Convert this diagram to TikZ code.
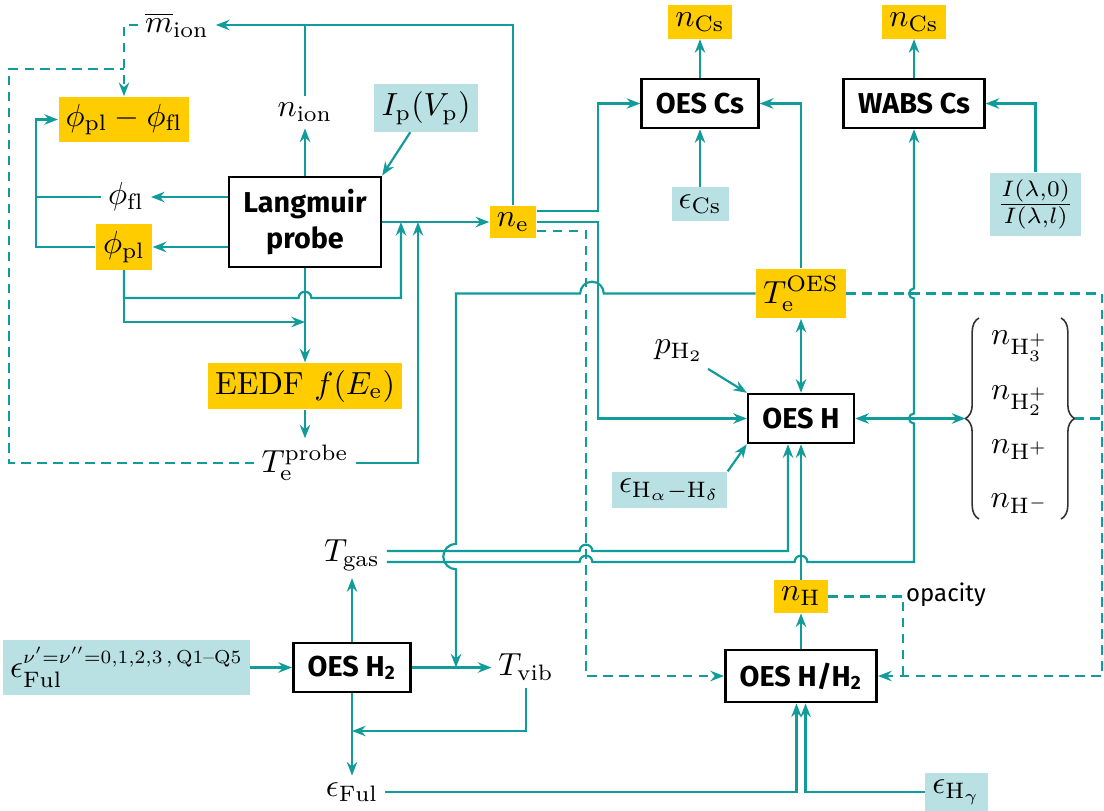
\documentclass[tikz,border=0pt]{standalone}
\usepackage{amsmath,graphicx}
\usepackage{fontspec}
\setsansfont{Fira Sans}
\definecolor{dgteal}{RGB}{18,155,155}
\definecolor{dgyellow}{RGB}{255,204,0}
\definecolor{dgblue}{RGB}{185,224,227}
\usetikzlibrary{arrows.meta,decorations.pathreplacing}

\begin{document}
\begin{tikzpicture}[x=1.1cm,y=-1.1cm,
  box/.style={draw,line width=0.8pt,fill=white,font=\sffamily\bfseries\fontsize{9}{11}\selectfont,
    align=center,inner xsep=4.5pt,inner ysep=4pt,minimum height=15.3pt},
  res/.style={fill=dgyellow,inner sep=2.2pt},
  inp/.style={fill=dgblue,inner sep=2.2pt},
  var/.style={inner sep=2pt},
  wire/.style={dgteal,line width=0.68pt},
  arr/.style={wire,-{Stealth[length=1.5mm,width=1.15mm,inset=0.5mm]}},
  biarr/.style={wire,{Stealth[length=1.5mm,width=1.15mm,inset=0.5mm]}-{Stealth[length=1.5mm,width=1.15mm,inset=0.5mm]}},
  dline/.style={wire,dash pattern=on 3pt off 2pt},
  darr/.style={dline,-{Stealth[length=1.5mm,width=1.15mm,inset=0.5mm]}},
  brc/.style={decorate,decoration={brace,amplitude=1.5mm},draw=black!80,line width=0.5pt}
]
  \useasboundingbox (0,0) rectangle (11.04,8.10);
  % Langmuir probe
  \node[box] (lp) at (3.05,2.22) {Langmuir\\probe};
  \node[var] (mion) at (1.77,0.25) {$\overline{m}_\mathrm{ion}$};
  \node[var] (nion) at (3.05,1.12) {$n_\mathrm{ion}$};
  \node[inp] (Ip) at (4.26,1.08) {$I_\mathrm{p}(V_\mathrm{p})$};
  \node[res] (phidiff) at (1.24,1.195) {$\phi_\mathrm{pl}-\phi_\mathrm{fl}$};
  \node[var] (phifl) at (1.26,1.97) {$\phi_\mathrm{fl}$};
  \node[res] (phipl) at (1.24,2.47) {$\phi_\mathrm{pl}$};
  \node[res] (ne) at (5.13,2.22) {$n_\mathrm{e}$};
  \node[res] (eedf) at (3.05,3.86) {EEDF $f(E_\mathrm{e})$};
  \node[var] (Teprobe) at (3.05,4.63) {$T_\mathrm{e}^\mathrm{probe}$};
  % Cs diagnostics
  \node[box] (oescs) at (7.00,1.035) {OES Cs};
  \node[res] (ncsA) at (7.00,0.22) {$n_\mathrm{Cs}$};
  \node[inp] (ecs) at (7.00,2.04) {$\epsilon_\mathrm{Cs}$};
  \node[box] (wabs) at (9.14,1.035) {WABS Cs};
  \node[res] (ncsB) at (9.14,0.22) {$n_\mathrm{Cs}$};
  \node[inp] (frac) at (10.355,2.045) {$\frac{I(\lambda,0)}{I(\lambda,l)}$};
  % Atomic hydrogen
  \node[res] (TeOES) at (8.01,2.935) {$T_\mathrm{e}^\mathrm{OES}$};
  \node[box] (oesh) at (8.01,4.185) {OES H};
  \node[var] (pH2) at (6.79,3.51) {$p_{\mathrm{H}_2}$};
  \node[inp] (eHad) at (6.695,4.90) {$\epsilon_{\mathrm{H}_\alpha-\mathrm{H}_\delta}$};
  \node[inner sep=0pt] (nplus) at (10.20,4.185)
    {$\begin{array}{@{}c@{}} n_{\mathrm{H}_3^+}\\[5pt] n_{\mathrm{H}_2^+}\\[5pt] n_{\mathrm{H}^+}\\[5pt] n_{\mathrm{H}^-}\end{array}$};
  \draw[brc] (9.79,5.19) -- (9.79,3.18);
  \draw[brc] (10.61,3.18) -- (10.61,5.19);
  \coordinate (bL) at (9.655,4.185);
  \coordinate (bR) at (10.745,4.185);
  \node[res] (nH) at (8.01,5.965) {$n_\mathrm{H}$};
  \node[box] (oeshh2) at (8.01,6.76) {OES H/H\textsubscript{2}};
  \node[var,font=\sffamily\fontsize{7.5}{9}\selectfont] (opac) at (9.46,5.95) {opacity};
  \node[inp] (eHg) at (9.565,7.92) {$\epsilon_{\mathrm{H}_\gamma}$};
  % Molecular hydrogen
  \node[box] (oesh2) at (3.52,6.675) {OES H\textsubscript{2}};
  \node[inp] (eFulq) at (1.265,6.675)
    {$\epsilon_\mathrm{Ful}^{\scalebox{0.84}{$\scriptstyle\nu'=\nu''=0,1,2,3\,,\,\mathrm{Q1}\text{--}\mathrm{Q5}$}}$};
  \node[var] (Tgas) at (3.52,5.555) {$T_\mathrm{gas}$};
  \node[var] (Tvib) at (5.26,6.675) {$T_\mathrm{vib}$};
  \node[var] (eFul) at (3.52,7.92) {$\epsilon_\mathrm{Ful}$};

  % Arrows, probe
  \draw[arr] (lp) -- (nion);
  \draw[wire] (nion) -- (nion |- mion);
  \draw[arr] (ne) |- (mion);
  \draw[darr] (mion) -| (phidiff);
  \coordinate (dl) at (0.09,0.69);
  \draw[dline] (Teprobe) -| (dl) -- (dl -| phidiff);
  \draw[arr] (Ip) -- (lp.north east);
  \draw[arr] (lp.west |- phifl) -- (phifl);
  \draw[arr] (lp.west |- phipl) -- (phipl);
  \coordinate (lx) at (0.36,2.47);
  \draw[arr] (phipl) -- (lx) |- (phidiff);
  \draw[wire] (phifl) -- (phifl -| lx);
  \draw[arr] (lp) -- (ne);
  \draw[arr] (phipl) |- (2.986,2.98) arc[start angle=180,end angle=0,radius=0.7mm] -| (4.01,2.22);
  \coordinate (pb) at (1.24,3.22);
  \draw[arr] (phipl) -- (pb) -- (pb -| lp);
  \draw[arr] (lp) -- (eedf);
  \draw[arr] (eedf) -- (Teprobe);
  \draw[arr] (Teprobe) -| (4.18,2.22);
  % Arrows, Cs
  \draw[arr] (oescs) -- (ncsA);
  \draw[arr] (ecs) -- (oescs);
  \draw[arr] (wabs) -- (ncsB);
  \draw[arr] (frac) |- (wabs);
  \coordinate (ca) at (5.98,2.11);
  \draw[arr] (ne.east |- ca) -- (ca) |- (oescs);
  \draw[arr] (TeOES) |- (oescs);
  % Arrows, H
  \coordinate (cb) at (5.98,2.22);
  \draw[arr] (ne) -- (cb) |- (oesh);
  \coordinate (cc) at (5.86,2.31);
  \draw[darr] (ne.east |- cc) -- (cc) |- (oeshh2);
  \draw[biarr] (TeOES) -- (oesh);
  \draw[arr] (TeOES) -- (6.038,2.935) arc[start angle=0,end angle=180,radius=1.3mm]
    -- (4.56,2.935) -- (4.56,5.438) arc[start angle=90,end angle=270,radius=1.4mm] -- (4.56,6.675);
  \coordinate (cr) at (11.02,2.935);
  \draw[darr] (TeOES) -- (cr) |- (oeshh2);
  \draw[dline] (bR) -- (bR -| cr);
  \draw[biarr] (oesh) -- (bL);
  \draw[arr] (pH2) -- (oesh.north west);
  \draw[arr] (eHad.north east) -- (oesh.south west);
  \coordinate (co) at (9.03,5.965);
  \draw[dline] (nH) -- (co) -- (co |- oeshh2);
  \draw[arr] (oeshh2) -- (nH);
  \draw[arr] (nH) -- (oesh);
  % T_gas
  \draw[arr] (Tgas.east |- 0,5.51) -- (5.796,5.51) arc[start angle=180,end angle=0,radius=0.7mm]
    -| (7.88,0 |- oesh.south);
  \draw[arr] (Tgas.east |- 0,5.62) -- (5.796,5.62) arc[start angle=180,end angle=0,radius=0.7mm]
    -- (7.946,5.62) arc[start angle=180,end angle=0,radius=0.7mm] -- (9.14,5.62)
    -- (9.14,4.235) arc[start angle=270,end angle=90,radius=0.55mm]
    -- (9.14,2.985) arc[start angle=270,end angle=90,radius=0.55mm] -- (wabs);
  % Arrows, H2
  \draw[arr] (eFulq) -- (oesh2);
  \draw[arr] (oesh2) -- (Tgas);
  \draw[arr] (oesh2) -- (Tvib);
  \draw[arr] (oesh2) -- (eFul);
  \coordinate (tv) at (5.26,7.31);
  \draw[arr] (Tvib) -- (tv) -- (tv -| oesh2);
  \draw[arr] (eFul) -| ([xshift=-0.5mm]oeshh2.south);
  \draw[arr] (eHg) -| ([xshift=0.5mm]oeshh2.south);
\end{tikzpicture}
\end{document}
